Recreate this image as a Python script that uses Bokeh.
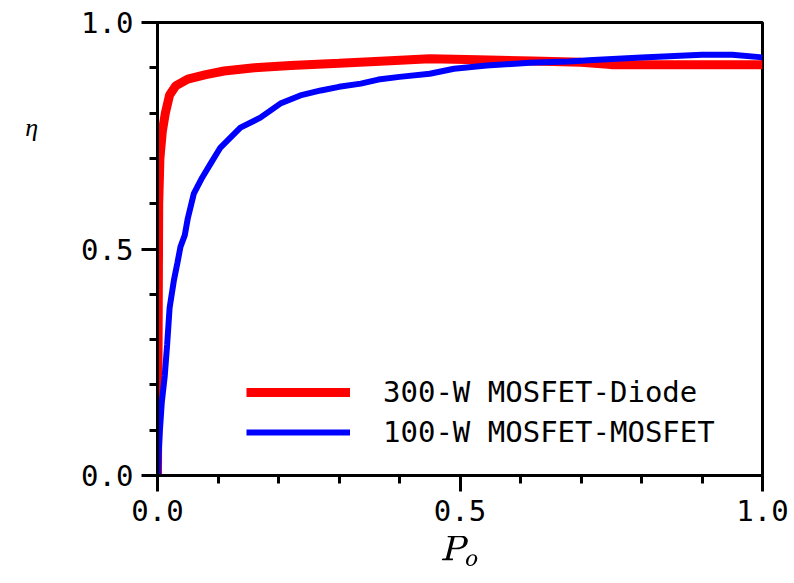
from bokeh.plotting import figure
from bokeh.models import FixedTicker, Legend, LegendItem, CustomJSTickFormatter
from bokeh.embed import file_html
from bokeh.resources import INLINE

# 300-W MOSFET-Diode
red_x = [0.0, 0.001, 0.002, 0.004, 0.008, 0.013, 0.02, 0.03, 0.05, 0.08, 0.11, 0.16, 0.22,
         0.3, 0.36, 0.45, 0.53, 0.62, 0.7, 0.75, 1.0]
red_y = [0.0, 0.3, 0.6, 0.7, 0.76, 0.8, 0.84, 0.86, 0.875, 0.885, 0.893, 0.9, 0.905,
         0.91, 0.914, 0.92, 0.918, 0.915, 0.912, 0.907, 0.907]

# 100-W MOSFET-MOSFET
blue_x = [0.001, 0.002, 0.004, 0.007, 0.012, 0.016, 0.02, 0.027, 0.033, 0.038, 0.045, 0.05,
          0.06, 0.074, 0.088, 0.104, 0.137, 0.17, 0.203, 0.236, 0.27, 0.3, 0.336, 0.365,
          0.4, 0.45, 0.49, 0.544, 0.615, 0.68, 0.72, 0.8, 0.9, 0.95, 1.0]
blue_y = [0.0, 0.05, 0.1, 0.16, 0.22, 0.29, 0.37, 0.43, 0.47, 0.505, 0.53, 0.567,
          0.622, 0.658, 0.689, 0.724, 0.768, 0.79, 0.821, 0.839, 0.85, 0.858, 0.865, 0.874,
          0.88, 0.887, 0.898, 0.905, 0.911, 0.914, 0.917, 0.923, 0.929, 0.929, 0.923]

major_ticks = [0.0, 0.5, 1.0]
minor_ticks = [0.1, 0.2, 0.3, 0.4, 0.6, 0.7, 0.8, 0.9]
series_names = ["300-W MOSFET-Diode", "100-W MOSFET-MOSFET"]
x_label = r"$$P_o$$"
y_label = "η"

FONT = "DejaVu Sans Mono"

p = figure(width=794, height=583, output_backend="svg", toolbar_location=None,
           x_range=(0, 1), y_range=(0, 1),
           min_border_left=157, min_border_right=32, min_border_top=22, min_border_bottom=108)
p.xgrid.visible = False
p.ygrid.visible = False
p.outline_line_color = "black"
p.outline_line_width = 3
p.background_fill_color = "white"
p.border_fill_color = "white"

r1 = p.line(red_x, red_y, line_color="#ff0000", line_width=9)
r2 = p.line(blue_x, blue_y, line_color="#0000ff", line_width=6)

fmt = CustomJSTickFormatter(code="return tick.toFixed(1);")
for ax in (p.xaxis[0], p.yaxis[0]):
    ax.ticker = FixedTicker(ticks=major_ticks, minor_ticks=minor_ticks)
    ax.formatter = fmt
    ax.axis_line_width = 3
    ax.major_tick_line_width = 3
    ax.minor_tick_line_width = 3
    ax.major_tick_out = 16
    ax.major_tick_in = 0
    ax.minor_tick_out = 8
    ax.minor_tick_in = 0
    ax.major_label_text_font = FONT
    ax.major_label_text_font_size = "29px"
    ax.major_label_text_color = "black"
    ax.major_label_standoff = 8
    ax.axis_label_text_color = "black"
    ax.axis_label_text_font = "Liberation Serif"
    ax.axis_label_text_font_style = "italic"

p.xaxis[0].axis_label = x_label
p.xaxis[0].axis_label_text_font_size = "34px"
p.xaxis[0].axis_label_standoff = 12

# η sits high on the left side: pad the label with blank lines below it
p.yaxis[0].axis_label = y_label + "\n\u00a0" * 7
p.yaxis[0].axis_label_orientation = "horizontal"
p.yaxis[0].axis_label_text_font_size = "26px"
p.yaxis[0].axis_label_standoff = 40

legend = Legend(items=[LegendItem(label=series_names[0], renderers=[r1]),
                       LegendItem(label=series_names[1], renderers=[r2])],
                location=(89, 23), padding=0, margin=0, spacing=0,
                glyph_width=104, glyph_height=40, label_height=40, label_standoff=33,
                label_text_font=FONT, label_text_font_size="29px", label_text_color="black",
                border_line_alpha=0, background_fill_alpha=0)
p.add_layout(legend)

open("out.html", "w").write(file_html(p, INLINE))
